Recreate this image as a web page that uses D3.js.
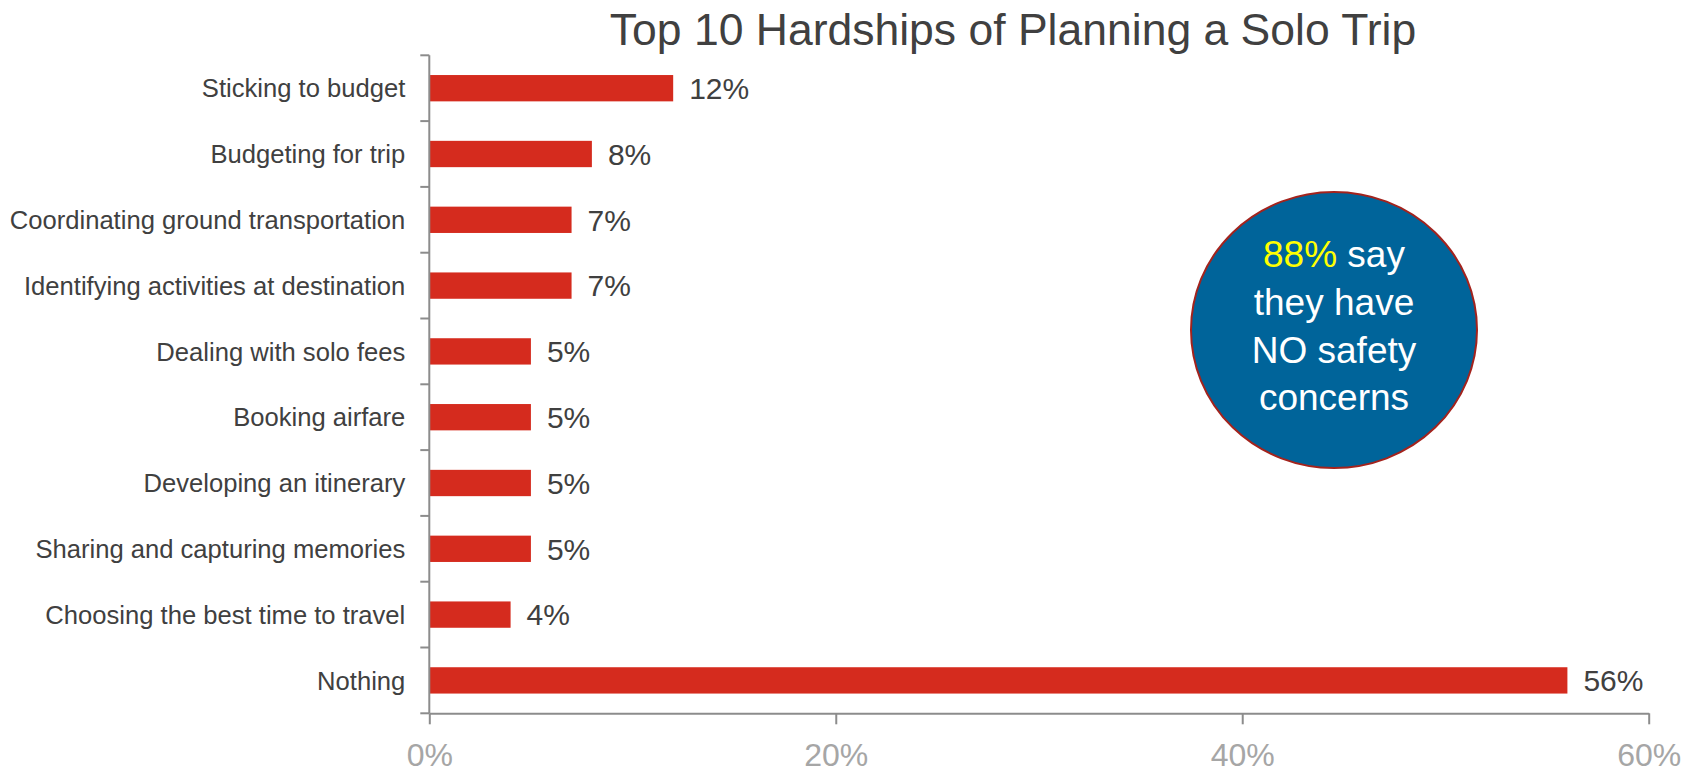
<!DOCTYPE html>
<html>
<head>
<meta charset="utf-8">
<script src="https://cdn.jsdelivr.net/npm/d3@7"></script>
<style>
  html, body { margin: 0; padding: 0; background: #ffffff; }
  svg { display: block; }
</style>
</head>
<body>
<svg id="chart" width="1693" height="773"></svg>
<script>
const title = "Top 10 Hardships of Planning a Solo Trip";
const categories = [
  "Sticking to budget",
  "Budgeting for trip",
  "Coordinating ground transportation",
  "Identifying activities at destination",
  "Dealing with solo fees",
  "Booking airfare",
  "Developing an itinerary",
  "Sharing and capturing memories",
  "Choosing the best time to travel",
  "Nothing"
];
const values = [12, 8, 7, 7, 5, 5, 5, 5, 4, 56];
const xTicks = [0, 20, 40, 60];
const calloutHighlight = "88%";
const calloutLines = [" say", "they have", "NO safety", "concerns"];

const FONT = "'Liberation Sans', Arial, sans-serif";
const svg = d3.select("#chart");

const x = d3.scaleLinear().domain([0, 60]).range([429.3, 1648.7]);
const y = d3.scaleBand().domain(categories).range([55.3, 713.3])
  .paddingInner(0.6).paddingOuter(0.3);

// Title
svg.append("text")
  .attr("x", 1013).attr("y", 45)
  .attr("text-anchor", "middle")
  .attr("font-family", FONT).attr("font-size", 44.5)
  .attr("fill", "#404040")
  .text(title);

// Bars
svg.append("g").selectAll("rect")
  .data(categories)
  .join("rect")
  .attr("x", x(0))
  .attr("y", d => y(d))
  .attr("width", (d, i) => x(values[i]) - x(0))
  .attr("height", y.bandwidth())
  .attr("fill", "#d52b1e");

// Value labels
svg.append("g").selectAll("text")
  .data(categories)
  .join("text")
  .attr("x", (d, i) => x(values[i]) + 16)
  .attr("y", d => y(d) + y.bandwidth() / 2)
  .attr("dy", "0.36em")
  .attr("font-family", FONT).attr("font-size", 30)
  .attr("fill", "#404040")
  .text((d, i) => values[i] + "%");

// Category labels
svg.append("g").selectAll("text")
  .data(categories)
  .join("text")
  .attr("x", x(0) - 24)
  .attr("y", d => y(d) + y.bandwidth() / 2)
  .attr("dy", "0.36em")
  .attr("text-anchor", "end")
  .attr("font-family", FONT).attr("font-size", 25.6)
  .attr("fill", "#404040")
  .text(d => d);

// Y axis line with ticks at band boundaries
const axisColor = "#8c8c8c";
const yTop = y.range()[0], yBot = y.range()[1];
const boundaries = categories.map(c => y(c) + y.bandwidth() / 2 - y.step() / 2).concat([yBot]);
const gy = svg.append("g");
gy.append("line")
  .attr("x1", x(0)).attr("x2", x(0))
  .attr("y1", yTop).attr("y2", yBot)
  .attr("stroke", axisColor).attr("stroke-width", 2);
gy.selectAll("line.tick")
  .data(boundaries)
  .join("line")
  .attr("class", "tick")
  .attr("x1", x(0) - 9).attr("x2", x(0))
  .attr("y1", d => d).attr("y2", d => d)
  .attr("stroke", axisColor).attr("stroke-width", 2);

// X axis
const gx = svg.append("g")
  .attr("transform", `translate(0,${yBot})`)
  .call(d3.axisBottom(x).tickValues(xTicks).tickFormat(d => d + "%").tickSize(11).tickSizeOuter(0));
gx.select(".domain").attr("stroke", axisColor).attr("stroke-width", 2);
gx.selectAll(".tick line").attr("stroke", axisColor).attr("stroke-width", 2);
gx.selectAll(".tick text")
  .attr("y", 53).attr("dy", "0")
  .attr("font-family", FONT).attr("font-size", 32)
  .attr("fill", "#a6a6a6");

// Callout circle
const cx = 1334, cy = 330;
svg.append("ellipse")
  .attr("cx", cx).attr("cy", cy)
  .attr("rx", 143).attr("ry", 138)
  .attr("fill", "#00649a")
  .attr("stroke", "#a3231d").attr("stroke-width", 2);

const ct = svg.append("g")
  .attr("font-family", FONT).attr("font-size", 37)
  .attr("text-anchor", "middle").attr("fill", "#ffffff");
const first = ct.append("text").attr("x", cx).attr("y", 267);
first.append("tspan").attr("fill", "#ffff00").text(calloutHighlight);
first.append("tspan").text(calloutLines[0]);
calloutLines.slice(1).forEach((line, i) => {
  ct.append("text").attr("x", cx).attr("y", 315 + i * 47.5).text(line);
});
</script>
</body>
</html>
